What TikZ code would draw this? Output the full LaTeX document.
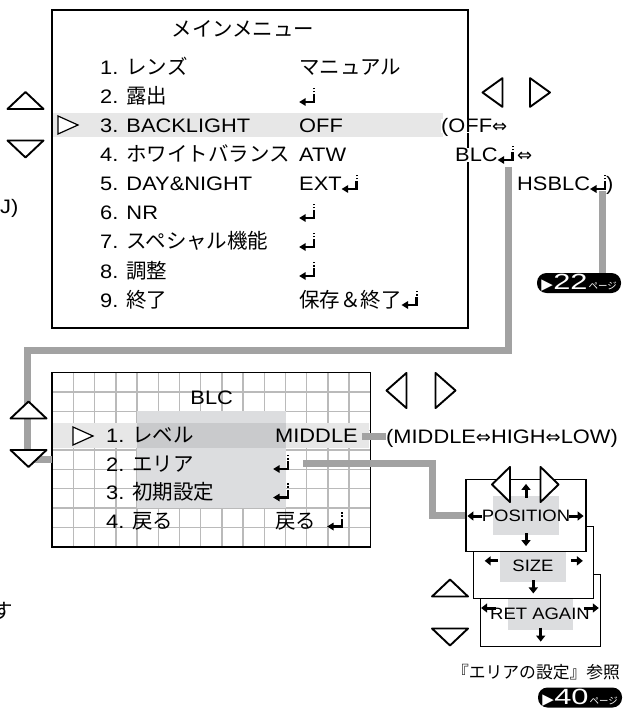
\documentclass[tikz,border=0pt]{standalone}
\usepackage{fontspec}
\setmainfont[FakeStretch=1.12]{Liberation Sans}
\newfontfamily\jpfont[Scale=1.05]{Noto Sans CJK JP}
\newfontfamily\symfont{DejaVu Sans}
\newfontfamily\badgefont[FakeStretch=1.4]{Liberation Sans}
\usetikzlibrary{positioning, calc, arrows.meta}
\definecolor{bargray}{HTML}{A2A2A2}
\definecolor{gridgray}{HTML}{BABABA}
\definecolor{panelgray}{HTML}{DCDDDF}
\definecolor{bandgray}{HTML}{E7E7E7}
\definecolor{selgray}{HTML}{C9CACC}
\newcommand{\jp}[1]{{\jpfont #1}}
\newcommand{\dblarr}{{\symfont\fontsize{18}{18}\selectfont ⇔}}
\newcommand{\retkey}{\tikz[baseline=0pt,x=1pt,y=1pt]{%
	\fill (0,2) -- (6.5,-2) -- (6.5,6) -- cycle;
	\draw[line width=2.4pt] (6,2) -- (15,2) -- (15,10);
	\draw[line width=2pt,dash pattern=on 1.6pt off 1.6pt] (15,11.5) -- (15,17);}}
\tikzset{
	menubox/.style={
			draw=black,
			line width=1.3pt,
			inner sep=0pt
		},
	mtext/.style={
			anchor=west,
			inner sep=0pt,
			text height=14pt,
			text depth=0pt,
			font=\fontsize{19.5}{22}\selectfont
		},
	mtitle/.style={
			mtext,
			anchor=center
		},
	smalltext/.style={
			inner sep=0pt,
			text height=12pt,
			text depth=0pt,
			font=\fontsize{16.5}{18}\selectfont
		},
	bar/.style={
			draw=bargray,
			line width=7pt
		},
	gridline/.style={
			draw=gridgray,
			line width=1.5pt
		},
	blcborder/.style={
			draw=black,
			line width=1.4pt
		},
	keyline/.style={
			draw=black,
			fill=white,
			line width=1.9pt,
			line join=round
		},
	selline/.style={
			draw=black,
			fill=white,
			line width=1.2pt
		},
	areabox/.style={
			draw=black,
			fill=white,
			line width=1.2pt,
			minimum width=120pt,
			minimum height=72pt,
			inner sep=0pt
		},
	tinyarr/.style={
			line width=3pt,
			-{Triangle[length=6pt,width=9pt]}
		},
	pagebadge/.style={
			fill=black,
			text=white,
			rounded corners=9.5pt,
			minimum width=84pt,
			minimum height=20pt,
			inner sep=0pt
		},
	upkey/.pic={
			\path[keyline] (-18,8.5) -- (0,-8.5) -- (18,8.5) -- cycle;
		},
	downkey/.pic={
			\path[keyline] (-18,-8.5) -- (0,8.5) -- (18,-8.5) -- cycle;
		},
	leftkey/.pic={
			\path[keyline] (10,-16) -- (-10,0) -- (10,16) -- cycle;
		},
	rightkey/.pic={
			\path[keyline] (-10,-16) -- (10,0) -- (-10,16) -- cycle;
		},
	selkey/.pic={
			\path[selline] (-10,-9) -- (10,0) -- (-10,9) -- cycle;
		}
}

\begin{document}
\begin{tikzpicture}[x=1pt, y=-1pt]
\useasboundingbox (0,0) rectangle (622,708);

% main menu
\node[menubox, minimum width=416pt, minimum height=318pt] (mainbox) at (260,169) {};
\fill[bandgray] (53,113) rectangle (443,137);
\pic at (68,125) {selkey};

\node[mtitle] (mtitle) at (243,30) {\jp{メインメニュー}};
\node[mtext] (m1) at (100,68) {1. \jp{レンズ}};
\node[mtext] (m2) at (100,97) {2. \jp{露出}};
\node[mtext] (m3) at (100,126) {3. BACKLIGHT};
\node[mtext] (m4) at (100,155) {4. \jp{ホワイトバランス}};
\node[mtext] (m5) at (100,184) {5. DAY\&NIGHT};
\node[mtext] (m6) at (100,213) {6. NR};
\node[mtext] (m7) at (100,242) {7. \jp{スペシャル機能}};
\node[mtext] (m8) at (100,271) {8. \jp{調整}};
\node[mtext] (m9) at (100,300) {9. \jp{終了}};

\node[mtext] (v1) at (299,68) {\jp{マニュアル}};
\node[mtext] (v2) at (299,97) {\retkey};
\node[mtext] (v3) at (299,126) {OFF};
\node[mtext] (v4) at (299,155) {ATW};
\node[mtext] (v5) at (299,184) {EXT\retkey};
\node[mtext] (v6) at (299,213) {\retkey};
\node[mtext] (v7) at (299,242) {\retkey};
\node[mtext] (v8) at (299,271) {\retkey};
\node[mtext] (v9) at (299,300) {\jp{保存＆終了}\retkey};

\node[mtext, fill=white] (opt1) at (441,126) {(OFF\dblarr};
\node[mtext, fill=white] (opt2) at (455,155) {BLC\retkey\,\dblarr};
\node[mtext] (opt3) at (517,184) {HSBLC\retkey)};
\node[mtext] (cutj) at (0,207) {J)};

\pic at (25.5,100.5) {upkey};
\pic at (25.5,149) {downkey};
\pic[yscale=0.9] at (492.5,92.5) {leftkey};
\pic[yscale=0.9] at (540,92.5) {rightkey};

\node[pagebadge] (badge22) at (579,283) {{\symfont\fontsize{15}{15}\selectfont ▶}\kern0.5pt{\badgefont\fontsize{22}{22}\selectfont 22}\kern1pt{\jpfont\fontsize{9}{9}\selectfont ページ}};
\coordinate (hsret) at (602,191);
\draw[bar] (hsret) -- (hsret |- badge22.north);

% BLC menu
\node[inner sep=0pt, minimum width=318pt, minimum height=174pt] (blc) at (211.3,459.7) {};
\foreach \i in {1,...,14}
	\draw[gridline] ({52.3+\i*21.2},372.7) -- ({52.3+\i*21.2},546.7);
\foreach \j in {1,...,8}
	\draw[gridline] (52.3,{372.7+\j*19.33}) -- (370.3,{372.7+\j*19.33});
\fill[panelgray] (137.1,411.4) rectangle (285.5,507.7);
\fill[bandgray] (53,423) rectangle (369,448);
\fill[selgray] (137.1,423) rectangle (285.5,448);
\draw[blcborder] (blc.north west) rectangle (blc.south east);

\coordinate (blcret) at (508,167);
\draw[bar] (blcret) |- (27,350) |- (blc.west);

\pic at (83,436) {selkey};
\pic at (28.5,410) {upkey};
\pic at (28.5,458.5) {downkey};
\pic[yscale=1.1] at (396.5,390.5) {leftkey};
\pic[yscale=1.1] at (445.5,390.5) {rightkey};

\node[mtitle] (btitle) at (211.7,397) {BLC};
\node[mtext] (b1) at (106,435.5) {1. \jp{レベル}};
\node[mtext] (b2) at (106,464) {2. \jp{エリア}};
\node[mtext] (b3) at (106,492.5) {3. \jp{初期設定}};
\node[mtext] (b4) at (106,521.5) {4. \jp{戻る}};
\node[mtext] (bv1) at (275,435.5) {MIDDLE};
\node[mtext] (bv2) at (273,464) {\retkey};
\node[mtext] (bv3) at (273,492.5) {\retkey};
\node[mtext] (bv4) at (275,521.5) {\jp{戻る}\hspace{11pt}\retkey};

\node[mtext] (range) at (386,436) {(MIDDLE\dblarr HIGH\dblarr LOW)};
\draw[bar] (range.west) -- ++(-24,0);

% area settings
\node[areabox] (retbox) at (540.7,610.5) {};
\fill[panelgray] (508,592) rectangle (573,630);
\node[smalltext] (rettext) at (540,613) {RET AGAIN};
\draw[tinyarr] (retbox.west) ++(16,-2.5) -- ++(-15,0);
\draw[tinyarr] (retbox.east) ++(-17.5,-2.5) -- ++(15,0);
\draw[tinyarr] (retbox.south) ++(0,-19.5) -- ++(0,14);

\node[areabox] (sizebox) at (533.3,562.85) {};
\fill[panelgray] (500,545) rectangle (566,582);
\node[smalltext] (sizetext) at (533,565) {SIZE};
\draw[tinyarr] (sizebox.west) ++(25,-2) -- ++(-13,0);
\draw[tinyarr] (sizebox.east) ++(-23,-2) -- ++(12,0);
\draw[tinyarr] (sizebox.south) ++(0,-19) -- ++(0,13);

\node[areabox] (posbox) at (526,515.5) {};
\fill[panelgray] (493,496) rectangle (559,535);
\node[smalltext] (postext) at (526,515) {POSITION};
\draw[tinyarr] (posbox.west) ++(17,0.5) -- ++(-15,0);
\draw[tinyarr] (posbox.east) ++(-18,0.5) -- ++(15,0);
\draw[tinyarr] (posbox.north) ++(0,19) -- ++(0,-14);
\draw[tinyarr] (posbox.south) ++(0,-19) -- ++(0,13);
\pic[yscale=1.1, xscale=0.9] at (501,484.5) {leftkey};
\pic[yscale=1.1, xscale=0.9] at (549.5,484.5) {rightkey};

\coordinate (areastart) at (303,463.5);
\draw[bar] (areastart) -| ($(posbox.west)+(-33,0)$) -- (posbox.west);

\pic at (450,588) {upkey};
\pic at (450,637) {downkey};

\node[inner sep=0pt, font=\jpfont\fontsize{16}{16}\selectfont] (arearef) at (536,672) {『エリアの設定』参照};
\node[pagebadge] (badge40) at (580,697.5) {{\symfont\fontsize{15}{15}\selectfont ▶}\kern0.5pt{\badgefont\fontsize{22}{22}\selectfont 40}\kern1pt{\jpfont\fontsize{9}{9}\selectfont ページ}};
\node[mtext, anchor=east] (cutsu) at (13,611) {\jp{す}};
\end{tikzpicture}
\end{document}
